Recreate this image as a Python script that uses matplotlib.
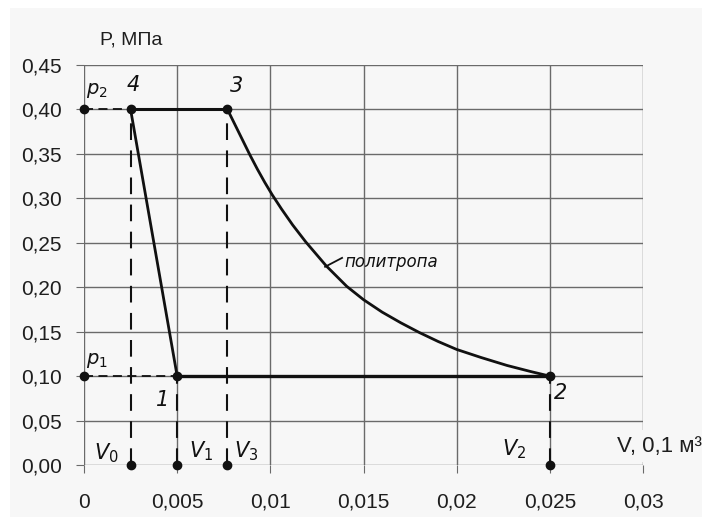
import matplotlib
matplotlib.use("Agg")
import matplotlib.pyplot as plt
from matplotlib.patches import Rectangle
from matplotlib.ticker import FuncFormatter

# cycle points (V in 0.1 m^3, P in MPa)
V_pts = [0.005, 0.025, 0.0077, 0.0025]
P_pts = [0.10, 0.10, 0.40, 0.40]

# polytrope 3 -> 2
poly_V = [0.0077, 0.0081, 0.0085, 0.0089, 0.0093, 0.0097, 0.0101, 0.0106,
          0.0112, 0.0119, 0.0130, 0.0141, 0.0150, 0.0160, 0.0170, 0.0180,
          0.0190, 0.0200, 0.0213, 0.0227, 0.0240, 0.0250]
poly_P = [0.400, 0.383, 0.366, 0.349, 0.333, 0.318, 0.304, 0.288,
          0.270, 0.251, 0.224, 0.201, 0.186, 0.172, 0.160, 0.149,
          0.139, 0.130, 0.121, 0.112, 0.105, 0.100]

x_ticks = [0, 0.005, 0.01, 0.015, 0.02, 0.025, 0.03]
x_labels = ["0", "0,005", "0,01", "0,015", "0,02", "0,025", "0,03"]
y_ticks = [0.00, 0.05, 0.10, 0.15, 0.20, 0.25, 0.30, 0.35, 0.40, 0.45]

bg = "#f7f7f7"
fig = plt.figure(figsize=(7.02, 5.17), dpi=100, facecolor=bg)
fig.patches.append(Rectangle((0, 1 - 8 / 517), 1, 8 / 517, transform=fig.transFigure,
                             facecolor="white", edgecolor="none", zorder=0))
fig.patches.append(Rectangle((0, 0), 10 / 702, 1, transform=fig.transFigure,
                             facecolor="white", edgecolor="none", zorder=0))
ax = fig.add_axes([84 / 702, 52 / 517, 559 / 702, 400 / 517])
ax.set_facecolor(bg)

ax.set_xlim(0, 0.03)
ax.set_ylim(0, 0.45)
ax.set_xticks(x_ticks)
ax.set_xticklabels(x_labels)
ax.set_yticks(y_ticks)
ax.yaxis.set_major_formatter(FuncFormatter(lambda v, p: f"{v:.2f}".replace(".", ",")))
for s in ax.spines.values():
    s.set_visible(False)
ax.grid(True, color="#6a6a6a", lw=1.0)
ax.tick_params(length=6, color="#6a6a6a", labelsize=15, labelcolor="#1e1e1e")
ax.tick_params(axis="y", pad=10)
ax.tick_params(axis="x", pad=14)
for lab in ax.get_xticklabels() + ax.get_yticklabels():
    lab.set_fontfamily("Liberation Sans")

k = "#111111"
# dashed helper lines
ax.plot([0, V_pts[3]], [P_pts[3], P_pts[3]], ls=(0, (5, 3)), color=k, lw=1.3)
ax.plot([0, V_pts[0]], [P_pts[0], P_pts[0]], ls=(0, (5, 3)), color=k, lw=1.3)
for v, p in zip(V_pts, P_pts):
    ax.plot([v, v], [0, p], ls=(0, (8, 5)), color=k, lw=1.5)

# cycle
ax.plot([V_pts[3], V_pts[2]], [P_pts[3], P_pts[2]], color=k, lw=2.2)
ax.plot([V_pts[3], V_pts[0]], [P_pts[3], P_pts[0]], color=k, lw=2.0)
ax.plot([V_pts[0], V_pts[1]], [P_pts[0], P_pts[1]], color=k, lw=2.4)
ax.plot(poly_V, poly_P, color=k, lw=2.0)

# dots
ax.plot(V_pts, P_pts, "o", color=k, ms=6, zorder=5)
ax.plot(V_pts, [0] * 4, "o", color=k, ms=6, zorder=5, clip_on=False)
ax.plot([0, 0], [0.1, 0.4], "o", color=k, ms=6, zorder=5, clip_on=False)

hw = dict(style="italic", family="DejaVu Sans", color=k)
ax.text(0.00263, 0.428, "4", fontsize=15, ha="center", va="center", **hw)
ax.text(0.0082, 0.426, "3", fontsize=15, ha="center", va="center", **hw)
ax.text(0.0042, 0.073, "1", fontsize=15, ha="center", va="center", **hw)
ax.text(0.0256, 0.081, "2", fontsize=15, ha="center", va="center", **hw)
ax.text(0.0001, 0.421, "$p_2$", fontsize=14, ha="left", va="center", color=k)
ax.text(0.0001, 0.118, "$p_1$", fontsize=14, ha="left", va="center", color=k)
ax.text(0.0012, 0.013, "$V_0$", fontsize=15, ha="center", va="center", color=k)
ax.text(0.0063, 0.015, "$V_1$", fontsize=15, ha="center", va="center", color=k)
ax.text(0.0087, 0.015, "$V_3$", fontsize=15, ha="center", va="center", color=k)
ax.text(0.0231, 0.018, "$V_2$", fontsize=15, ha="center", va="center", color=k)
ax.plot([0.01294, 0.01385], [0.223, 0.233], color=k, lw=1.3)
ax.text(0.0140, 0.228, "политропа", fontsize=12, ha="left", va="center", **hw)

ax.text(0.0286, 0.021, "V, 0,1 м³", fontsize=16, ha="left", va="center",
        family="Liberation Sans", color="#1e1e1e", clip_on=False, zorder=6,
        bbox=dict(facecolor=bg, edgecolor="none", pad=4))
fig.text(100 / 702, 1 - 40 / 517, "P, МПа", fontsize=14, ha="left", va="center",
         family="Liberation Sans", color="#1e1e1e")

fig.savefig("out.png", dpi=100, facecolor=bg)
